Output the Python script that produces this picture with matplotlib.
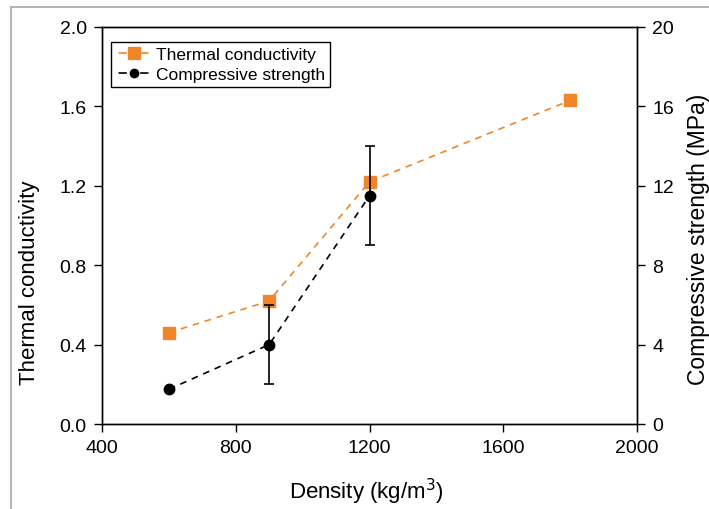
import matplotlib
matplotlib.use("Agg")
import matplotlib.pyplot as plt
from matplotlib.lines import Line2D

plt.rcParams["font.family"] = ["Liberation Sans", "DejaVu Sans"]

# data
density = [600, 900, 1200, 1800]
thermal = [0.46, 0.62, 1.22, 1.63]

density_cs = [600, 900, 1200]
strength = [1.75, 4.0, 11.5]
strength_err = [0.0, 2.0, 2.5]

orange = "#F0862A"

fig = plt.figure(figsize=(7.09, 5.10), dpi=100)
ax = fig.add_axes([102 / 709, 1 - 425 / 510, 535 / 709, 397 / 510])
ax2 = ax.twinx()

# gray frame round the picture (left and top edges only are visible)
fig.add_artist(Line2D([11 / 709, 11 / 709], [0, 1 - 8 / 510], color="#a8a8a8", lw=1.2))
fig.add_artist(Line2D([11 / 709, 1], [1 - 8 / 510, 1 - 8 / 510], color="#a8a8a8", lw=1.2))

ax.plot(density, thermal, ls=(0, (4, 3.5)), color=orange, lw=1.2,
        marker="s", ms=9, mfc=orange, mec=orange)
ax2.errorbar(density_cs, strength, yerr=strength_err, ls=(0, (4, 3.5)),
             color="black", lw=1.2, marker="o", ms=7.5, capsize=3.5,
             elinewidth=1.2, capthick=1.2)

ax.set_xlim(400, 2000)
ax.set_ylim(0, 2.0)
ax2.set_ylim(0, 20)
ax.set_xticks(range(400, 2001, 400))
ax.set_yticks([0.0, 0.4, 0.8, 1.2, 1.6, 2.0])
ax.set_yticklabels(["0.0", "0.4", "0.8", "1.2", "1.6", "2.0"])
ax2.set_yticks(range(0, 21, 4))

for a in (ax, ax2):
    a.tick_params(direction="out", length=5.5, width=1, labelsize=14, pad=5.5)
    for s in a.spines.values():
        s.set_linewidth(1.0)

ax.set_xlabel("Density (kg/m$^3$)", fontsize=16)
ax.set_ylabel("Thermal conductivity", fontsize=16)
ax2.set_ylabel("Compressive strength (MPa)", fontsize=16.5)
# label centres placed as in the reference (pixels -> axes fractions)
ax.xaxis.set_label_coords((366 - 102) / 535, -(492 - 425) / 397)
ax.yaxis.set_label_coords(-(102 - 30) / 535, (425 - 283) / 397)
ax2.yaxis.set_label_coords((699 - 102) / 535, (425 - 239) / 397)
ax.xaxis.label.set_va("center")
ax.yaxis.label.set_va("center")
ax2.yaxis.label.set_va("center")

# legend handles: one dash each side of the marker, as in the reference
handle_ls = (11.5, (5, 8))
handles = [
    Line2D([], [], ls=handle_ls, color=orange, lw=1.2, marker="s",
           ms=8.5, mfc=orange, mec=orange),
    Line2D([], [], ls=handle_ls, color="black", lw=1.2, marker="o", ms=6),
]
leg = ax.legend(handles, ["Thermal conductivity", "Compressive strength"],
                loc="upper left", bbox_to_anchor=(9 / 535, 1 - 15 / 397), fontsize=12.5,
                handlelength=2.0, handletextpad=0.3, borderpad=0.3,
                labelspacing=0.25, fancybox=False, framealpha=1,
                edgecolor="black", borderaxespad=0)
leg.get_frame().set_linewidth(1.0)

fig.savefig("out.png", dpi=100)
